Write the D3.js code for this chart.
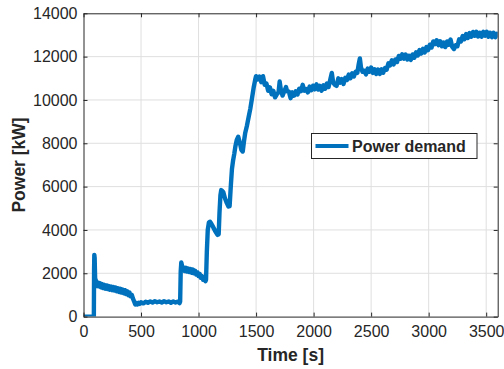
<!DOCTYPE html>
<html>
<head>
<meta charset="utf-8">
<script src="https://cdn.jsdelivr.net/npm/d3@7/dist/d3.min.js"></script>
<style>
  body { margin: 0; background: #fff; }
  svg text { font-family: "Liberation Sans", Arial, sans-serif; fill: #262626; }
</style>
</head>
<body>
<div id="chart"></div>
<script>
const width = 504;
const height = 369;
const margin = { left: 83.5, top: 13.3, right: 6.3, bottom: 52.4 };
const plotW = width - margin.left - margin.right;
const plotH = height - margin.top - margin.bottom;

// data
const time = [
  0, 88, 90, 92, 94, 97, 100, 103, 106, 110,
  120, 130, 140, 150, 160, 170, 180, 190, 200, 210, 220, 230, 240, 250, 260, 270, 280, 290, 300,
  310, 320, 330, 340, 350, 360, 370, 380, 390, 400, 410, 420, 430, 440, 450, 460, 470, 480, 490,
  500, 520, 540, 560, 580, 600, 620, 640, 660, 680, 700, 720, 740, 760, 780, 800, 820, 835,
  840, 845, 850, 855, 860, 870, 880, 890, 900, 910, 920, 930, 940, 950, 960, 970, 980, 990,
  1000, 1010, 1020, 1030, 1040, 1050, 1060, 1065, 1072, 1080, 1090, 1100, 1110, 1120, 1135,
  1150, 1165, 1175, 1182, 1190, 1197, 1205, 1215, 1230, 1245, 1260, 1270, 1280, 1290, 1300,
  1310, 1320, 1332, 1345, 1360, 1372, 1384, 1395, 1405, 1420, 1435, 1450, 1465, 1480, 1495,
  1500, 1515, 1530, 1545, 1560, 1575, 1590, 1605, 1620, 1635, 1650, 1665, 1680, 1695, 1705,
  1715, 1730, 1745, 1760, 1770, 1785, 1800, 1815, 1830, 1845, 1860, 1875, 1890, 1905, 1920,
  1935, 1950, 1965, 1980, 1995, 2010, 2025, 2040, 2055, 2070, 2085, 2100, 2115, 2130, 2145,
  2158, 2170, 2185, 2200, 2215, 2230, 2245, 2260, 2275, 2290, 2305, 2320, 2335, 2350, 2365,
  2380, 2392, 2402, 2412, 2425, 2440, 2455, 2470, 2485, 2500, 2515, 2530, 2545, 2560, 2575,
  2590, 2605, 2620, 2635, 2650, 2665, 2680, 2695, 2710, 2725, 2740, 2755, 2770, 2785, 2800,
  2815, 2830, 2845, 2860, 2875, 2890, 2905, 2920, 2935, 2950, 2965, 2980, 2995, 3010, 3025,
  3040, 3055, 3070, 3085, 3100, 3115, 3130, 3145, 3160, 3175, 3190, 3205, 3220, 3235, 3250,
  3265, 3280, 3295, 3310, 3325, 3340, 3355, 3370, 3385, 3400, 3415, 3430, 3445, 3460, 3475,
  3490, 3505, 3520, 3535, 3550, 3565, 3580, 3595, 3600
];
const power = [
  0, 0, 0, 2200, 2850, 2700, 2000, 1400, 1700, 1450,
  1580, 1400, 1550, 1360, 1500, 1320, 1470, 1290, 1440, 1270, 1410, 1240, 1390, 1220, 1360, 1200, 1340, 1170, 1310,
  1140, 1280, 1110, 1250, 1080, 1220, 1040, 1170, 990, 1110, 940, 1000, 830, 700, 560, 620, 560, 640, 590,
  660, 610, 690, 640, 700, 650, 710, 660, 700, 650, 710, 660, 700, 640, 700, 650, 690, 620,
  700, 2100, 2500, 2380, 2150, 2270, 2100, 2250, 2080, 2220, 2060, 2200, 2030, 2170, 2000, 2120, 1940, 2050,
  1870, 1970, 1790, 1870, 1700, 1760, 1630, 1700, 3000, 4000, 4350, 4380, 4300, 4200, 4050,
  3900, 3770, 3800, 4800, 5600, 5840, 5800, 5750, 5450, 5250, 5080, 5100, 6000, 6800, 7200,
  7500, 7850, 8150, 8300, 8000, 7700, 7620, 8100, 8460, 8800, 9200, 9600, 10100, 10600, 11000,
  11100, 10950, 11080, 10820, 11100, 10700, 10760, 10420, 10580, 10260, 10420, 10120, 10260, 10350, 10850,
  10480, 10200, 10400, 10600, 10400, 10380, 10080, 10350, 10200, 10400, 10250, 10520, 10400, 10700, 10430,
  10500, 10350, 10620, 10450, 10660, 10490, 10720, 10480, 10650, 10430, 10680, 10520, 10760, 10600, 10950,
  11250, 10800, 10700, 10650, 11000, 10800, 10960, 10740, 11020, 10920, 11170, 11000, 11230, 11080, 11300,
  11250, 11650, 11920, 11500, 11300, 11350, 11180, 11450, 11300, 11500, 11250, 11420, 11200, 11400, 11200,
  11420, 11260, 11480, 11400, 11690, 11600, 11830, 11640, 11870, 11750, 12030, 11900, 12110, 11900, 12100,
  11870, 12040, 11850, 12100, 11950, 12200, 12050, 12300, 12140, 12360, 12190, 12440, 12300, 12550, 12420,
  12700, 12580, 12760, 12530, 12710, 12480, 12650, 12440, 12700, 12550, 12790, 12450, 12350, 12520, 12480,
  12800, 12700, 12950, 12800, 13040, 12860, 13090, 12920, 13140, 12960, 13150, 12930, 13100, 12920, 13150,
  12970, 13150, 12920, 13100, 12900, 13100, 12900, 13050, 13000
];
const xTicks = [0, 500, 1000, 1500, 2000, 2500, 3000, 3500];
const yTicks = [0, 2000, 4000, 6000, 8000, 10000, 12000, 14000];
const seriesName = "Power demand";

const points = time.map((t, i) => ({ t: t, p: power[i] }));

const svg = d3.select("#chart")
  .append("svg")
  .attr("width", width)
  .attr("height", height);

const x = d3.scaleLinear().domain([0, 3600]).range([0, plotW]);
const y = d3.scaleLinear().domain([0, 14000]).range([plotH, 0]);

const g = svg.append("g")
  .attr("transform", `translate(${margin.left},${margin.top})`);

// grid
g.selectAll(".vgrid")
  .data(xTicks.slice(1))
  .enter()
  .append("line")
  .attr("x1", d => x(d)).attr("x2", d => x(d))
  .attr("y1", 0).attr("y2", plotH)
  .attr("stroke", "#dfdfdf").attr("stroke-width", 1);

g.selectAll(".hgrid")
  .data(yTicks.slice(1, -1))
  .enter()
  .append("line")
  .attr("x1", 0).attr("x2", plotW)
  .attr("y1", d => y(d)).attr("y2", d => y(d))
  .attr("stroke", "#dfdfdf").attr("stroke-width", 1);

// the series
svg.append("clipPath").attr("id", "clip")
  .append("rect").attr("x", 0).attr("y", -5).attr("width", plotW).attr("height", plotH + 5);

const line = d3.line().x(d => x(d.t)).y(d => y(d.p));

g.append("path")
  .datum(points)
  .attr("d", line)
  .attr("clip-path", "url(#clip)")
  .attr("fill", "none")
  .attr("stroke", "#0072BD")
  .attr("stroke-width", 4.4)
  .attr("stroke-linejoin", "round");

// axes, MATLAB style: inward ticks, box on
const tickStyle = sel => {
  sel.select(".domain").attr("stroke", "#262626");
  sel.selectAll(".tick line").attr("stroke", "#262626");
  sel.selectAll(".tick text")
    .style("font-size", "16px")
    .attr("fill", "#262626");
};

const fmt = d3.format("d");

g.append("g")
  .attr("transform", `translate(0,${plotH})`)
  .call(d3.axisBottom(x).tickValues(xTicks).tickSize(-4).tickSizeOuter(0).tickPadding(9).tickFormat(fmt))
  .call(tickStyle);

g.append("g")
  .call(d3.axisTop(x).tickValues(xTicks).tickSize(-4).tickSizeOuter(0).tickFormat(""))
  .call(tickStyle);

g.append("g")
  .call(d3.axisLeft(y).tickValues(yTicks).tickSize(-4).tickSizeOuter(0).tickPadding(6).tickFormat(fmt))
  .call(tickStyle);

g.append("g")
  .attr("transform", `translate(${plotW},0)`)
  .call(d3.axisRight(y).tickValues(yTicks).tickSize(-4).tickSizeOuter(0).tickFormat(""))
  .call(tickStyle);

// axis titles
svg.append("text")
  .attr("x", margin.left + plotW / 2)
  .attr("y", 361)
  .attr("text-anchor", "middle")
  .style("font-size", "17.5px")
  .style("font-weight", "bold")
  .text("Time [s]");

svg.append("text")
  .attr("transform", `translate(25,${margin.top + plotH / 2}) rotate(-90)`)
  .attr("text-anchor", "middle")
  .style("font-size", "17.5px")
  .style("font-weight", "bold")
  .text("Power [kW]");

// legend
const legend = svg.append("g").attr("transform", "translate(311.5,133.5)");
legend.append("rect")
  .attr("width", 165.5).attr("height", 25)
  .attr("fill", "#fff").attr("stroke", "#262626").attr("stroke-width", 1);
legend.append("line")
  .attr("x1", 4).attr("x2", 37)
  .attr("y1", 12.5).attr("y2", 12.5)
  .attr("stroke", "#0072BD").attr("stroke-width", 4);
legend.append("text")
  .attr("x", 40.5).attr("y", 18.5)
  .style("font-size", "16px")
  .style("font-weight", "bold")
  .attr("fill", "#000")
  .text(seriesName);
</script>
</body>
</html>
